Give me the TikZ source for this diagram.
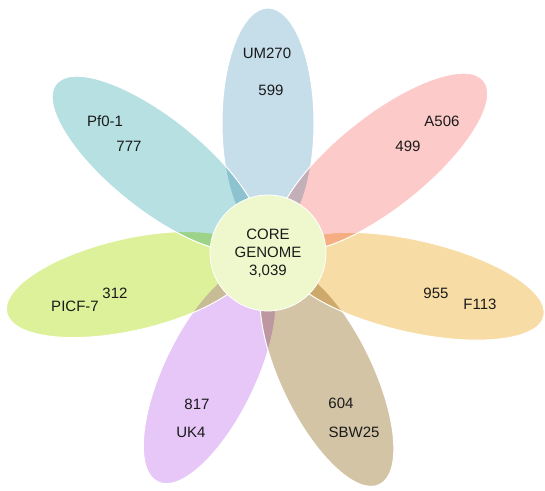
\documentclass[tikz,border=0pt]{standalone}
\usepackage{fontspec}
\setmainfont{Liberation Sans}
\definecolor{petblue}{RGB}{198,221,234}
\definecolor{petpink}{RGB}{252,202,200}
\definecolor{petorange}{RGB}{248,220,166}
\definecolor{pettan}{RGB}{211,196,166}
\definecolor{petlilac}{RGB}{230,199,247}
\definecolor{petlime}{RGB}{221,241,154}
\definecolor{petteal}{RGB}{182,224,226}
\definecolor{petcore}{RGB}{238,248,204}
\definecolor{pettext}{RGB}{26,26,26}
\begin{document}
\begin{tikzpicture}[x=1pt,y=1pt,font=\fontsize{15}{18}\selectfont,
    petal/.style={blend mode=multiply},
    rim/.style={draw=white,line width=1pt},
    lbl/.style={text=pettext,inner sep=1pt}]
    \useasboundingbox (0,0) rectangle (545,490);
    \coordinate (core) at (268,237);
    % Sieben Blaetter um den Kern, Reihenfolge bestimmt die sichtbaren Raender.
    \foreach \ang/\dist/\half/\col in {90/130/115/petblue,-115.7/134.5/119.5/petlilac,
        -64.3/136/121/pettan,-12.9/149/134/petorange,38.6/145.5/130.5/petpink,
        -167.1/141.5/126.5/petlime,141.4/143/128/petteal}{
      \begin{scope}[shift={(core)},rotate=\ang]
        \fill[petal,fill=\col] (\dist,0) ellipse[x radius=\half,y radius=46];
        \draw[rim] (\dist,0) ellipse[x radius=\half,y radius=46];
      \end{scope}
    }
    \fill[petcore,draw=white,line width=.8pt] (core) circle[radius=58];
    \node[lbl,align=center] (corelbl) at (core) {CORE\\GENOME\\3,039};
    \node[lbl] (um) at (267,437) {UM270};
    \node[lbl] (umn) at (271,400) {599};
    \node[lbl] (aa) at (442,369) {A506};
    \node[lbl] (aan) at (408,344) {499};
    \node[lbl] (ff) at (480,186) {F113};
    \node[lbl] (ffn) at (436,197) {955};
    \node[lbl] (sb) at (354,58) {SBW25};
    \node[lbl] (sbn) at (341,87) {604};
    \node[lbl] (uk) at (191,58) {UK4};
    \node[lbl] (ukn) at (197,86) {817};
    \node[lbl] (pc) at (75,184) {PICF-7};
    \node[lbl] (pcn) at (115,197) {312};
    \node[lbl] (pf) at (105,369) {Pf0-1};
    \node[lbl] (pfn) at (129,344) {777};
  \end{tikzpicture}
\end{document}
